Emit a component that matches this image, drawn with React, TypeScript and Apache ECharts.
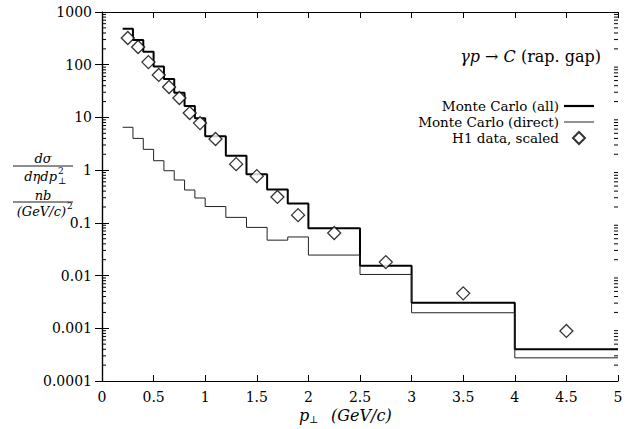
import React, { useEffect, useRef } from 'react';
import * as echarts from 'echarts';

// Histogram bin edges in p_perp (GeV/c)
const binEdges = [0.2, 0.3, 0.4, 0.5, 0.6, 0.7, 0.8, 0.9, 1.0, 1.2, 1.4, 1.6, 1.8, 2.0, 2.5, 3.0, 4.0, 5.0];
// Monte Carlo cross sections per bin, nb/(GeV/c)^2
const mcAll = [482, 294, 177, 92, 53.5, 29.4, 16.5, 9.6, 4.4, 1.87, 0.84, 0.43, 0.234, 0.079, 0.0153, 0.00305, 0.0004];
const mcDirect = [6.5, 4.0, 2.48, 1.51, 0.975, 0.65, 0.42, 0.296, 0.204, 0.127, 0.082, 0.047, 0.054, 0.0245, 0.0105, 0.00197, 0.000275];
// H1 measurement, scaled
const h1Pt = [0.25, 0.35, 0.45, 0.55, 0.65, 0.75, 0.85, 0.95, 1.1, 1.3, 1.5, 1.7, 1.9, 2.25, 2.75, 3.5, 4.5];
const h1Scaled = [321, 217, 112, 64, 37.8, 23.4, 12.1, 7.8, 3.9, 1.3, 0.77, 0.31, 0.14, 0.064, 0.018, 0.0046, 0.00089];

const xTickLabels = ['0', '0.5', '1', '1.5', '2', '2.5', '3', '3.5', '4', '4.5', '5'];
const yTickLabels = ['0.0001', '0.001', '0.01', '0.1', '1', '10', '100', '1000'];
const minorMultipliers = [2, 3, 4, 5, 6, 7, 8, 9];

const X_MIN = 0;
const X_MAX = 5;
const X_STEP = 0.5;
const Y_MIN = 0.0001;
const Y_MAX = 1000;

const SERIF = 'DejaVu Serif';

function stepPoints(edges: number[], values: number[]) {
  const pts: number[][] = [];
  values.forEach((v, i) => {
    pts.push([edges[i], v], [edges[i + 1], v]);
  });
  return pts;
}

function minorTickData() {
  const out: number[][] = [];
  yTickLabels.slice(0, -1).forEach((lab) => {
    const decade = Number(lab);
    minorMultipliers.forEach((m) => out.push([X_MIN, decade * m]));
  });
  return out;
}

export default function App() {
  const ref = useRef<HTMLDivElement>(null);

  useEffect(() => {
    if (!ref.current) return;
    const chart = echarts.init(ref.current, null, { renderer: 'svg' });

    const axisLine = { lineStyle: { color: '#000', width: 1.2 } };
    const labelStyle = { fontFamily: SERIF, fontSize: 14, color: '#000' };
    const italic = { fontFamily: SERIF, fontStyle: 'italic', color: '#000' };
    const txt = (x: number, y: number, text: string, size: number, align: string, it = true) => ({
      type: 'text', x, y,
      style: {
        text, fontFamily: SERIF, fontStyle: it ? 'italic' : 'normal', fontSize: size,
        fill: '#000', align, verticalAlign: 'middle',
      },
    });

    chart.setOption({
      animation: false,
      backgroundColor: '#fff',
      grid: { left: 102, right: 19, top: 12, bottom: 48, containLabel: false },
      xAxis: [
        {
          type: 'value', min: X_MIN, max: X_MAX, interval: X_STEP, position: 'bottom',
          axisLine, splitLine: { show: false },
          axisTick: { inside: true, length: 6, lineStyle: { color: '#000', width: 1 } },
          axisLabel: {
            ...labelStyle, margin: 9,
            formatter: (v: number) => xTickLabels[Math.round((v - X_MIN) / X_STEP)] ?? '',
          },
        },
        {
          type: 'value', min: X_MIN, max: X_MAX, interval: X_STEP, position: 'top',
          axisLine, splitLine: { show: false },
          axisTick: { inside: true, length: 6, lineStyle: { color: '#000', width: 1 } },
          axisLabel: { show: false },
        },
      ],
      yAxis: [
        {
          type: 'log', logBase: 10, min: Y_MIN, max: Y_MAX, position: 'left',
          axisLine, splitLine: { show: false },
          axisTick: { inside: true, length: 7, lineStyle: { color: '#000', width: 1 } },
          axisLabel: {
            ...labelStyle, margin: 10,
            formatter: (v: number) => yTickLabels[Math.round(Math.log10(v)) + 4] ?? '',
          },
        },
        {
          type: 'log', logBase: 10, min: Y_MIN, max: Y_MAX, position: 'right',
          axisLine, splitLine: { show: false },
          axisTick: { inside: true, length: 7, lineStyle: { color: '#000', width: 1 } },
          axisLabel: { show: false },
        },
      ],
      legend: {
        orient: 'vertical',
        right: 38,
        top: 94,
        align: 'right',
        itemWidth: 30,
        itemHeight: 12,
        itemGap: 2,
        symbolKeepAspect: true,
        textStyle: { fontFamily: SERIF, fontSize: 13.5, color: '#000', lineHeight: 14 },
        data: [
          { name: 'Monte Carlo (all)', icon: 'path://M0,0H30V2.2H0Z' },
          { name: 'Monte Carlo (direct)', icon: 'path://M0,0H30V1H0Z' },
          { name: 'H1 data, scaled', icon: 'path://M0,-1L1,0L0,1L-1,0Z' },
        ],
      },
      graphic: [
        {
          type: 'text', x: 601, y: 56,
          style: {
            text: '{it|γp} → {it|C} (rap. gap)',
            font: `16px "${SERIF}"`, fill: '#000', align: 'right', verticalAlign: 'middle',
            rich: { it: { ...italic, fontSize: 16 } },
          },
        },
        // y-axis quantity: dσ / dη dp⊥²
        txt(43, 158, 'dσ', 13, 'center'),
        { type: 'line', shape: { x1: 13, y1: 166, x2: 73, y2: 166 }, style: { stroke: '#000', lineWidth: 0.9 } },
        txt(57, 176, 'dηdp', 13, 'right'),
        txt(58, 171, '2', 9, 'left', false),
        txt(58, 181, '⊥', 9, 'left', false),
        // y-axis unit: nb / (GeV/c)²
        txt(43, 195, 'nb', 13, 'center'),
        { type: 'line', shape: { x1: 13, y1: 202, x2: 73, y2: 202 }, style: { stroke: '#000', lineWidth: 0.9 } },
        txt(66, 211, '(GeV/c)', 13, 'right'),
        txt(67, 206, '2', 9, 'left', false),
        // x-axis quantity: p⊥ (GeV/c)
        txt(299, 415, 'p', 16, 'left'),
        txt(309, 419, '⊥', 10, 'left', false),
        txt(331, 415, '(GeV/c)', 16, 'left'),
      ],
      series: [
        {
          name: 'Monte Carlo (all)',
          type: 'line',
          data: stepPoints(binEdges, mcAll),
          symbol: 'none',
          lineStyle: { color: '#000', width: 2 },
          itemStyle: { color: '#000' },
          z: 3,
        },
        {
          name: 'Monte Carlo (direct)',
          type: 'line',
          data: stepPoints(binEdges, mcDirect),
          symbol: 'none',
          lineStyle: { color: '#222', width: 1 },
          itemStyle: { color: '#222' },
          z: 3,
        },
        {
          name: 'H1 data, scaled',
          type: 'scatter',
          data: h1Pt.map((x, i) => [x, h1Scaled[i]]),
          symbol: 'diamond',
          symbolSize: 13,
          itemStyle: { color: '#fff', borderColor: '#000', borderWidth: 1.3 },
          z: 4,
        },
        {
          // minor decade ticks on both vertical frame edges
          type: 'custom',
          silent: true,
          data: minorTickData(),
          renderItem: (_params: any, api: any) => {
            const v = api.value(1);
            const l = api.coord([X_MIN, v]);
            const r = api.coord([X_MAX, v]);
            const st = { stroke: '#000', lineWidth: 1 };
            return {
              type: 'group',
              children: [
                { type: 'line', shape: { x1: l[0], y1: l[1], x2: l[0] + 4, y2: l[1] }, style: st },
                { type: 'line', shape: { x1: r[0] - 4, y1: r[1], x2: r[0], y2: r[1] }, style: st },
              ],
            };
          },
          z: 5,
        },
      ],
    });

    return () => chart.dispose();
  }, []);

  return <div ref={ref} style={{ width: 637, height: 429, position: 'absolute', left: 0, top: 0 }} />;
}
